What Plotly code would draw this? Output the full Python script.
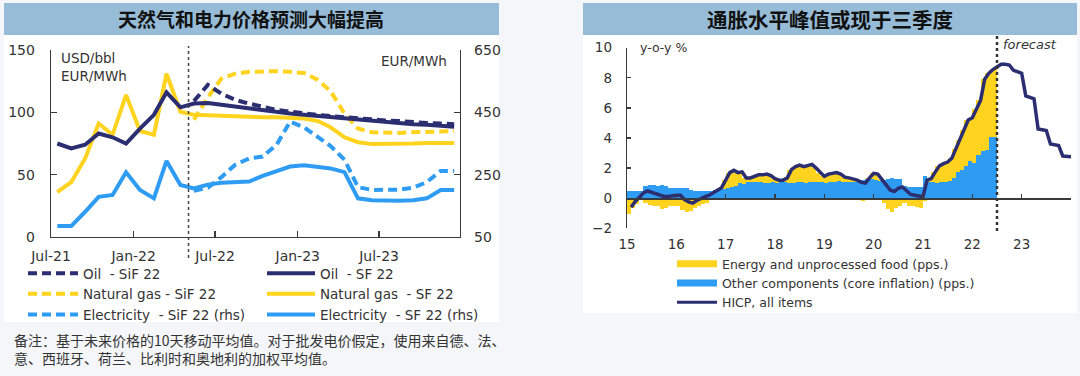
import plotly.graph_objects as go

W, H = 1080, 376
def px(x): return x / W
def py(y): return 1 - y / H

NAVY = "#2c2e72"
YEL = "#ffd31e"
BLUE = "#2f9cf4"
AXC = "#3a3a3a"
TXT = "#333333"
BARC = "#97bcd8"
BG = "#f4f6f9"
FONT = "DejaVu Sans"
CJK = "Noto Sans CJK SC"

# ---------------- Left chart data (monthly, Jul-21 .. Dec-23) ----------------
left_months = [f"{2021 + (6 + i) // 12}-{(6 + i) % 12 + 1:02d}-15" for i in range(30)]
left_tick_dates = ["2021-07-01", "2022-01-01", "2022-07-01", "2023-01-01", "2023-07-01"]
left_tick_labels = ["Jul-21", "Jan-22", "Jul-22", "Jan-23", "Jul-23"]
left_forecast_start = "2022-05-03"

oil_sf = [75, 71, 74, 83, 80, 75, 87, 98, 116, 104, 107, 107.5, 106, 104.5, 103, 102, 100.5,
          99, 98, 97, 96, 95, 94, 93, 92, 91.5, 90.5, 90, 89, 88.5]
oil_sif = [None, None, None, None, None, None, None, None, None, None,
           109, 122, 115, 110, 107, 104.5, 102, 100.5, 99, 98, 97, 96, 95, 94, 93.5, 93, 92,
           91.5, 91, 90.5]
gas_sf = [36, 44, 63, 91, 82, 114, 85, 82, 131, 100.5, 98, 97.5, 97, 96.5, 96.5, 96, 96,
          95.5, 95, 93, 88, 80, 76, 74.5, 74.5, 75, 75, 75.5, 75.5, 75.5]
gas_sif = [None, None, None, None, None, None, None, None, None, None,
           94, 112, 127, 131, 132.5, 133, 133, 132.5, 131.5, 126, 117, 99, 87, 84, 83.5, 83.5,
           84, 84.5, 85, 85]
elec_sf = [85, 85, 131, 179, 185, 258, 201, 174, 294, 217, 206, 218, 224, 226, 228, 246, 262,
           276, 280, 274, 270, 258, 174, 168, 166, 166, 168, 174, 201, 201]
elec_sif = [None, None, None, None, None, None, None, None, None, None,
            198, 208, 242, 282, 302, 308, 346, 420, 402, 370, 342, 298, 210, 201, 201, 202,
            208, 226, 262, 262]

# ---------------- Right chart data (monthly, Jan-15 ..) ----------------
hicp = [
    -0.6, -0.22, 0.05, 0.35, 0.48, 0.4, 0.33, 0.25, 0.12, 0.12, 0.18, 0.2,      # 2015
    0.2, -0.1, -0.25, -0.33, -0.15, 0.0, 0.1, 0.2, 0.35, 0.5, 0.7, 1.2,         # 2016
    1.7, 1.85, 1.7, 1.75, 1.35, 1.35, 1.45, 1.55, 1.55, 1.6, 1.5, 1.3,          # 2017
    1.2, 1.2, 1.35, 1.9, 2.1, 2.2, 2.1, 2.15, 2.25, 2.0, 1.7, 1.45,             # 2018
    1.6, 1.65, 1.7, 1.6, 1.4, 1.35, 1.3, 1.2, 1.05, 1.0, 1.35, 1.65,            # 2019
    1.6, 1.25, 0.9, 0.55, 0.45, 0.65, 0.75, 0.5, 0.25, 0.2, 0.15, 0.1,          # 2020
    1.2, 1.3, 1.75, 2.15, 2.3, 2.4, 2.65, 3.3, 3.9, 4.5, 5.2, 5.35,             # 2021
    5.9, 6.5, 7.9, 8.3, 8.55, 8.75, 8.9, 8.9, 8.85, 8.5, 8.4, 8.3,              # 2022
    6.8, 6.7, 6.6, 4.6, 4.55, 4.5, 3.6, 3.55, 3.5, 2.8, 2.76, 2.76,             # 2023
]
core_pps = [
    0.45, 0.45, 0.45, 0.45, 0.8, 0.85, 0.85, 0.8, 0.85, 0.8, 0.7, 0.7,
    0.7, 0.7, 0.65, 0.55, 0.5, 0.5, 0.5, 0.5, 0.5, 0.55, 0.6, 0.6,
    0.7, 0.75, 0.8, 1.0, 0.95, 1.05, 1.05, 1.1, 1.05, 1.0, 1.0, 1.05,
    1.0, 1.05, 1.1, 1.0, 1.0, 1.05, 1.05, 1.0, 1.05, 1.05, 1.05, 1.1,
    1.0, 1.05, 1.1, 1.15, 1.05, 1.1, 1.05, 1.1, 1.15, 1.2, 1.25, 1.3,
    1.2, 1.15, 1.2, 1.3, 1.35, 1.3, 1.3, 0.8, 0.75, 0.75, 0.75, 0.75,
    1.45, 1.1, 1.05, 1.0, 1.05, 1.1, 1.15, 1.35, 1.75, 1.85, 2.15, 2.45,
    2.35, 2.85, 3.15, 3.2, 4.05, 4.1,
]
energy_food_pps = [
    -1.05, -0.67, -0.4, -0.1, -0.32, -0.45, -0.52, -0.55, -0.73, -0.68, -0.52, -0.5,
    -0.5, -0.8, -0.9, -0.88, -0.65, -0.5, -0.4, -0.3, -0.15, -0.05, 0.1, 0.6,
    1.0, 1.1, 0.9, 0.75, 0.4, 0.3, 0.4, 0.45, 0.5, 0.6, 0.5, 0.25,
    0.2, 0.15, 0.25, 0.9, 1.1, 1.15, 1.05, 1.15, 1.2, 0.95, 0.65, 0.35,
    0.6, 0.6, 0.6, 0.45, 0.35, 0.25, 0.25, 0.1, -0.1, -0.2, 0.1, 0.35,
    0.4, 0.1, -0.3, -0.75, -0.9, -0.65, -0.55, -0.3, -0.5, -0.55, -0.6, -0.65,
    -0.2, 0.2, 0.7, 1.15, 1.25, 1.3, 1.5, 1.95, 2.15, 2.65, 3.05, 2.9,
    3.55, 3.65, 4.75, 5.1, 4.5, 4.65,
]
right_tick_years = [2015, 2016, 2017, 2018, 2019, 2020, 2021, 2022, 2023]
right_tick_labels = ["15", "16", "17", "18", "19", "20", "21", "22", "23"]
right_forecast_start = 2022.5

bar_x = [2015 + i / 12 + 1 / 24 for i in range(len(core_pps))]
line_x = [2015 + (i + 1) / 12 for i in range(len(hicp))]

fig = go.Figure()

# ---- left chart traces ----
def lt(y, name, color, dash, yaxis, legend, rank):
    return go.Scatter(x=left_months, y=y, name=name, mode="lines",
                      line=dict(color=color, width=4, dash=dash),
                      xaxis="x", yaxis=yaxis, legend=legend, legendrank=rank,
                      hoverinfo="skip")

fig.add_trace(lt(gas_sf, "Natural gas  - SF 22", YEL, "solid", "y", "legend2", 2))
fig.add_trace(lt(gas_sif, "Natural gas - SiF 22", YEL, "9px,5px", "y", "legend", 2))
fig.add_trace(lt(oil_sf, "Oil  - SF 22", NAVY, "solid", "y", "legend2", 1))
fig.add_trace(lt(oil_sif, "Oil  - SiF 22", NAVY, "9px,5px", "y", "legend", 1))
fig.add_trace(lt(elec_sf, "Electricity  - SF 22 (rhs)", BLUE, "solid", "y2", "legend2", 3))
fig.add_trace(lt(elec_sif, "Electricity  - SiF 22 (rhs)", BLUE, "9px,5px", "y2", "legend", 3))

# ---- right chart traces ----
fig.add_trace(go.Bar(x=bar_x, y=core_pps, width=1 / 12, marker=dict(color=BLUE, line=dict(width=0)),
                     xaxis="x3", yaxis="y3", showlegend=False, hoverinfo="skip"))
fig.add_trace(go.Bar(x=bar_x, y=energy_food_pps, width=1 / 12, marker=dict(color=YEL, line=dict(width=0)),
                     xaxis="x3", yaxis="y3", showlegend=False, hoverinfo="skip"))
fig.add_trace(go.Scatter(x=line_x, y=hicp, mode="lines", line=dict(color=NAVY, width=3.5),
                         xaxis="x3", yaxis="y3", showlegend=False, hoverinfo="skip"))
# legend entries for right chart
for nm, col, wd in [("Energy and unprocessed food (pps.)", YEL, 7),
                    ("Other components (core inflation) (pps.)", BLUE, 7),
                    ("HICP, all items", NAVY, 3)]:
    fig.add_trace(go.Scatter(x=[None], y=[None], mode="lines", name=nm,
                             line=dict(color=col, width=wd), xaxis="x3", yaxis="y3",
                             legend="legend3"))
# carrier for zero-line axis
fig.add_trace(go.Scatter(x=[None], y=[None], mode="lines", xaxis="x4", yaxis="y3",
                         showlegend=False, hoverinfo="skip"))

ldom_x = [px(51), px(460)]
ldom_y = [py(237), py(50)]
rdom_x = [px(627), px(1071)]
rdom_y = [py(228.3), py(47.7)]
zero_pos = rdom_y[0] + (0 - (-2)) / 12 * (rdom_y[1] - rdom_y[0])

axis_common = dict(showgrid=False, zeroline=False, linecolor=AXC, linewidth=1.3,
                   tickcolor=AXC, tickwidth=1.3, automargin=False)

shapes = [
    # panels
    dict(type="rect", xref="paper", yref="paper", x0=px(4), x1=px(499), y0=py(322), y1=py(35),
         fillcolor="white", line=dict(width=0), layer="below"),
    dict(type="rect", xref="paper", yref="paper", x0=px(583), x1=px(1077), y0=py(313), y1=py(35),
         fillcolor="white", line=dict(width=0), layer="below"),
    dict(type="rect", xref="paper", yref="paper", x0=px(4), x1=px(499), y0=py(35), y1=py(3),
         fillcolor=BARC, line=dict(width=0), layer="below"),
    dict(type="rect", xref="paper", yref="paper", x0=px(583), x1=px(1077), y0=py(35), y1=py(3),
         fillcolor=BARC, line=dict(width=0), layer="below"),
    # forecast separators
    dict(type="line", xref="x", yref="paper", x0=left_forecast_start, x1=left_forecast_start,
         y0=py(258), y1=py(46), line=dict(color="#444444", width=1.5, dash="dot")),
    dict(type="line", xref="x3", yref="paper", x0=right_forecast_start, x1=right_forecast_start,
         y0=py(231), y1=py(35), line=dict(color="#333333", width=2.5, dash="dot")),
]

def ann(text, x, y, xanchor, family, size, color=TXT):
    return dict(text=text, x=px(x), y=py(y), xref="paper", yref="paper", xanchor=xanchor,
                yanchor="middle", showarrow=False, font=dict(family=family, size=size, color=color))

annotations = [
    ann("<b>天然气和电力价格预测大幅提高</b>", 251, 19, "center", CJK, 19, "#111111"),
    ann("<b>通胀水平峰值或现于三季度</b>", 830, 19, "center", CJK, 20.5, "#111111"),
    ann("USD/bbl", 59, 58, "left", FONT, 13.5),
    ann("EUR/MWh", 59, 76, "left", FONT, 13.5),
    ann("EUR/MWh", 449, 61, "right", FONT, 13.5),
    ann("y-o-y %", 638, 48, "left", FONT, 12.5),
    ann("<i>forecast</i>", 1001, 45, "left", FONT, 13),
    ann("备注：基于未来价格的10天移动平均值。对于批发电价假定，使用来自德、法、", 12, 340, "left", CJK, 14),
    ann("意、西班牙、荷兰、比利时和奥地利的加权平均值。", 12, 358, "left", CJK, 14),
]

legend_common = dict(bgcolor="rgba(0,0,0,0)", borderwidth=0, xanchor="left", yanchor="top",
                     orientation="v", tracegroupgap=0)

fig.update_layout(
    width=W, height=H, margin=dict(l=0, r=0, t=0, b=0, autoexpand=False),
    paper_bgcolor=BG, plot_bgcolor="rgba(0,0,0,0)",
    barmode="relative", bargap=0,
    font=dict(family=FONT, color=TXT),
    hovermode=False,
    xaxis=dict(domain=ldom_x, anchor="y", type="date", range=["2021-07-01", "2023-12-28"],
               tickvals=left_tick_dates, ticktext=left_tick_labels, ticks="inside", ticklen=6,
               showline=True, tickfont=dict(size=14, color=TXT), ticklabelstandoff=6,
               **axis_common),
    yaxis=dict(domain=ldom_y, anchor="x", range=[0, 150], tickvals=[0, 50, 100, 150],
               ticks="inside", ticklen=6, showline=True, tickfont=dict(size=14, color=TXT),
               ticklabelstandoff=12, **axis_common),
    yaxis2=dict(overlaying="y", side="right", anchor="x", range=[50, 650],
                tickvals=[50, 250, 450, 650], ticks="inside", ticklen=6, showline=True,
                tickfont=dict(size=14, color=TXT), ticklabelstandoff=10, **axis_common),
    xaxis3=dict(domain=rdom_x, anchor="y3", range=[2015, 2024], tickvals=right_tick_years,
                ticktext=right_tick_labels, ticks="", showline=False,
                tickfont=dict(size=13.5, color=TXT), ticklabelstandoff=6, **axis_common),
    yaxis3=dict(domain=rdom_y, anchor="x3", range=[-2, 10], tickvals=[-2, 0, 2, 4, 6, 8, 10],
                ticks="inside", ticklen=4, showline=True, tickfont=dict(size=13.5, color=TXT),
                ticklabelstandoff=11, **axis_common),
    xaxis4=dict(overlaying="x3", anchor="free", position=zero_pos, range=[2015, 2024],
                tickvals=[2015, 2016, 2017, 2018, 2019, 2020, 2021, 2022, 2023, 2024],
                showticklabels=False, ticks="inside", ticklen=4, showline=True,
                showgrid=False, zeroline=False, linecolor=AXC, linewidth=1.5,
                tickcolor=AXC, tickwidth=1.5, automargin=False),
    legend=dict(x=px(23), y=py(258), itemwidth=50, font=dict(size=13.5, color=TXT),
                **legend_common),
    legend2=dict(x=px(262), y=py(258), itemwidth=48, font=dict(size=13.5, color=TXT),
                 **legend_common),
    legend3=dict(x=px(672), y=py(249), itemwidth=40, font=dict(size=12.5, color=TXT),
                 **legend_common),
    shapes=shapes,
    annotations=annotations,
)

fig.write_html(
    "out.html",
    config={"displayModeBar": False, "staticPlot": True},
    post_script="document.body.style.margin='0';document.body.style.background='" + BG + "';",
)
